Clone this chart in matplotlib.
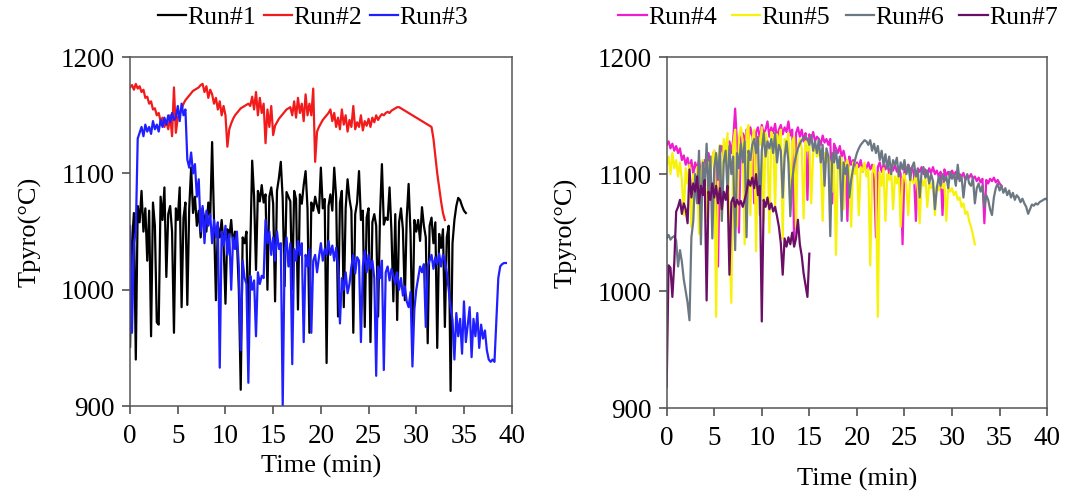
import matplotlib
matplotlib.use("Agg")
import matplotlib.pyplot as plt
import numpy as np

plt.rcParams["font.family"] = ["Liberation Serif", "DejaVu Serif"]

# Pyrometer temperature readings, one value every 0.2 min
DT = 0.2

run1 = [
    951, 1040, 1066, 940, 1072,
    1058, 1085, 1050, 1070, 1025,
    1068, 960, 1075, 1055, 972,
    970, 1080, 1060, 1088, 1011,
    1065, 1072, 1050, 963, 1070,
    1060, 1088, 985, 1062, 1075,
    987, 1070, 1105, 1066, 1080,
    1055, 1068, 1045, 1070, 1060,
    1050, 1075, 1062, 1127, 1058,
    991, 1055, 1045, 1060, 1040,
    988, 1052, 1045, 1060, 1038,
    1050, 1042, 1000, 914, 1045,
    1040, 1050, 960, 1035, 1111,
    1080, 1017, 1085, 1076, 1090,
    1075, 1082, 1000, 1080, 1088,
    1074, 990, 1085, 1096, 1110,
    1078, 1003, 1084, 1080, 1076,
    1000, 1085, 1078, 983, 1082,
    1074, 1090, 1102, 1070, 963,
    1075, 1068, 1080, 1072, 1066,
    1105, 1070, 1078, 937, 1072,
    1082, 1068, 1105, 1080, 977,
    1075, 1085, 985, 1070, 1095,
    1078, 1068, 963, 1065, 1075,
    1102, 1060, 1068, 968, 1062,
    1070, 955, 1058, 1065, 1055,
    977, 1064, 1108, 1056, 1062,
    1060, 1088, 1050, 990, 1065,
    974, 1058, 1070, 1052, 991,
    1062, 1091, 1048, 960, 1060,
    1050, 1060, 1042, 1071, 1055,
    1045, 954, 1055, 1062, 1040,
    1058, 950, 1048, 1036, 1052,
    968, 1045, 1055, 913, 1040,
    1060, 1072, 1079, 1077, 1072,
    1068, 1066,
]

run2 = [
    1174, 1176, 1172, 1177, 1173,
    1175, 1170, 1172, 1165, 1166,
    1160, 1162, 1155, 1156, 1150,
    1152, 1145, 1148, 1140, 1145,
    1138, 1150, 1132, 1174, 1135,
    1148, 1152, 1155, 1160, 1163,
    1165, 1167, 1169, 1171, 1172,
    1173, 1174, 1176, 1177, 1170,
    1175, 1165, 1172, 1168, 1160,
    1165, 1155, 1162, 1150, 1158,
    1150, 1123, 1138, 1143, 1147,
    1150, 1152, 1154, 1156, 1157,
    1158, 1159, 1160, 1158, 1166,
    1155, 1170, 1150, 1165, 1152,
    1160, 1126, 1155, 1140, 1158,
    1133, 1141, 1144, 1147, 1149,
    1151, 1153, 1155, 1156, 1157,
    1150, 1162, 1148, 1165, 1152,
    1160, 1145, 1168, 1150, 1160,
    1150, 1173, 1110, 1136, 1140,
    1143, 1146, 1148, 1150, 1152,
    1155, 1145, 1152, 1140, 1148,
    1138, 1155, 1142, 1150, 1136,
    1146, 1140, 1158, 1138, 1144,
    1140, 1150, 1137, 1145, 1141,
    1147, 1140, 1148, 1144, 1150,
    1146, 1149, 1151, 1150, 1152,
    1153, 1152, 1154, 1155, 1156,
    1157, 1157, 1156, 1155, 1154,
    1153, 1152, 1151, 1150, 1149,
    1148, 1147, 1146, 1145, 1144,
    1143, 1142, 1141, 1140, 1130,
    1115, 1100, 1088, 1076, 1066,
    1060,
]

run3 = [
    1055, 963, 1040, 1050, 1130,
    1135, 1140, 1132, 1142, 1136,
    1140, 1134, 1145, 1138, 1142,
    1136, 1146, 1140, 1148, 1142,
    1150, 1144, 1152, 1146, 1148,
    1158, 1145, 1160, 1150, 1155,
    1112, 1105, 1118, 1100, 1108,
    1080, 1095, 1050, 1072, 1040,
    1068, 1055, 1065, 1040, 1060,
    1045, 1058, 933, 1050, 1038,
    1055, 1030, 1048, 1000, 1045,
    1035, 1050, 1020, 948, 1025,
    1010, 1005, 920, 1012, 1000,
    1008, 960, 1015, 1005, 1012,
    1010, 1060, 1040, 1050, 1030,
    1045, 1025, 1050, 1035, 1040,
    900, 1030, 1045, 1020, 1040,
    936, 1035, 1025, 1042, 1030,
    1040, 955, 1030, 1020, 1035,
    963, 1025, 1030, 1015, 1028,
    1040, 1025, 1035, 1030, 1042,
    1030, 1038, 1025, 1036, 1020,
    971, 1010, 1000, 1015, 997,
    1005, 1020, 1030, 1014, 1028,
    1025, 955, 1020, 1034, 1015,
    1030, 1018, 1025, 1010, 926,
    1020, 1010, 1025, 931, 1015,
    1020, 1008, 1018, 1012, 1005,
    1015, 1000, 1010, 995, 1003,
    990, 985, 998, 934, 983,
    1000, 1010, 1020, 1015, 1022,
    968, 1020, 1025, 1030, 1018,
    1028, 1022, 1031, 1020, 1030,
    1025, 1015, 1000, 985, 974,
    940, 980, 960, 975, 945,
    990, 955, 970, 985, 942,
    975, 960, 980, 950, 970,
    958, 965, 948, 940, 938,
    940, 938, 975, 1010, 1020,
    1022, 1023, 1023,
]

run4 = [
    1125, 1128, 1122, 1126, 1120,
    1124, 1118, 1122, 1112, 1116,
    1108, 1114, 1105, 1112, 1100,
    1110, 1104, 1112, 1100, 1106,
    1112, 1102, 1118, 1108, 1114,
    1120, 1110, 1021, 1118, 1124,
    1115, 1126, 1120, 1128, 1118,
    1130, 1156, 1125, 1050, 1132,
    1135, 1128, 1138, 1130, 1140,
    1132, 1075, 1136, 1140, 1130,
    1142, 1134, 1138, 1145, 1132,
    1140, 1135, 1143, 1130, 1138,
    1142, 1134, 1140, 1136, 1145,
    1133, 1138, 1043, 1135, 1140,
    1132, 1138, 1128, 1135, 1078,
    1134, 1130, 1136, 1128, 1132,
    1130, 1125, 1133, 1127, 1130,
    1125, 1130, 1075, 1126, 1122,
    1118, 1124, 1115, 1120, 1112,
    1060, 1115, 1108, 1112, 1104,
    1110, 1106, 1112, 1102, 1108,
    1105, 1110, 1104, 1108, 1100,
    1046, 1106, 1110, 1102, 1108,
    1104, 1110, 1100, 1106, 1103,
    1108, 1102, 1106, 1100, 1040,
    1105, 1101, 1108, 1103, 1106,
    1100, 1060, 1105, 1102, 1106,
    1100, 1104, 1098, 1105, 1101,
    1106, 1100, 1103, 1098, 1102,
    1065, 1104, 1099, 1102, 1097,
    1103, 1099, 1102, 1096, 1100,
    1098, 1101, 1095, 1099, 1097,
    1100, 1096, 1098, 1094, 1097,
    1093, 1096, 1058, 1095, 1092,
    1096, 1094, 1097, 1093, 1095,
    1092, 1090,
]

run5 = [
    1108, 1115, 1100, 1118, 1105,
    1112, 1098, 1110, 1095, 1065,
    1105, 1092, 1108, 1055, 1100,
    1090, 1106, 1049, 1098, 1112,
    1095, 1060, 1110, 1100, 1115,
    1120, 978, 1112, 1125, 1060,
    1130, 1118, 1135, 1045, 990,
    1125, 1138, 1055, 1130, 1140,
    1128, 1040, 1136, 1142, 1065,
    1130, 1138, 1034, 1132, 1125,
    1140, 1060, 1135, 1128, 1050,
    1136, 1130, 1070, 1134, 1125,
    1138, 1045, 1130, 1126, 1135,
    1070, 1128, 1132, 1055, 1125,
    1130, 1122, 1062, 1128, 1120,
    1126, 1075, 1118, 1124, 1115,
    1120, 1112, 1060, 1118, 1110,
    1115, 1108, 1085, 1112, 1031,
    1110, 1105, 1114, 1070, 1108,
    1112, 1104, 1055, 1110, 1100,
    1108, 1065, 1106, 1102, 1110,
    1098, 1104, 1022, 1100, 1108,
    1095, 978, 1102, 1090, 1105,
    1060, 1100, 1095, 1104, 1070,
    1098, 1092, 1102, 1055, 1096,
    1100, 1090, 1065, 1098, 1094,
    1092, 1100, 1088, 1058, 1095,
    1090, 1097, 1072, 1092, 1088,
    1095, 1065, 1090, 1086, 1094,
    1088, 1092, 1060, 1090, 1085,
    1088, 1082, 1085, 1078, 1080,
    1072, 1075, 1066, 1068, 1060,
    1055, 1048, 1040,
]

run6 = [
    1045, 1048, 1044, 1046, 1047,
    1043, 1021, 1035, 1025, 1010,
    1000, 990, 975, 1046, 1060,
    1100, 1075, 1120, 1040, 1110,
    1090, 1126, 1080, 1115, 1045,
    1105, 1118, 1095, 1124, 1060,
    1110, 1120, 1085, 1124, 1100,
    1115, 1035, 1118, 1105, 1126,
    1110, 1128, 1046, 1120, 1112,
    1125, 1130, 1118, 1132, 1065,
    1120, 1135, 1115, 1128, 1122,
    1130, 1118, 1135, 1110, 1125,
    1120, 1080, 1115, 1128, 1110,
    1064, 1095, 1108, 1116, 1122,
    1126, 1129, 1131, 1132, 1130,
    1125, 1133, 1120, 1128, 1118,
    1130, 1110, 1125, 1090, 1122,
    1115, 1047, 1118, 1110, 1120,
    1105, 1115, 1060, 1110, 1100,
    1108, 1080, 1095, 1105, 1112,
    1118, 1122, 1125, 1127, 1129,
    1128, 1125, 1129, 1120, 1126,
    1118, 1124, 1112, 1120, 1108,
    1117, 1105, 1115, 1100, 1112,
    1108, 1114, 1098, 1110, 1104,
    1112, 1100, 1108, 1095, 1106,
    1110, 1098, 1104, 1080, 1102,
    1106, 1097, 1103, 1092, 1100,
    1094, 1070, 1088, 1098, 1090,
    1100, 1094, 1098, 1088, 1102,
    1096, 1100, 1090, 1108, 1094,
    1098, 1080, 1095, 1100, 1092,
    1090, 1097, 1075, 1088, 1092,
    1085, 1090, 1072, 1082, 1078,
    1070, 1065, 1080, 1088, 1092,
    1086, 1090, 1084, 1088, 1082,
    1086, 1080, 1084, 1078, 1082,
    1080, 1076, 1079, 1075, 1072,
    1066, 1070, 1074, 1073, 1075,
    1074, 1076, 1077, 1078, 1079,
    1078,
]

run7 = [
    918, 1022, 1020, 995, 1024,
    1068, 1072, 1078, 1066, 1075,
    1070, 1058, 1104, 1080, 1092,
    1085, 1098, 1075, 1090, 1082,
    1095, 992, 1085, 1078, 1092,
    1080, 1090, 1075, 1088, 1070,
    1085, 1078, 1090, 1014, 1076,
    1080, 1072, 1078, 1074, 1077,
    1072, 1078, 1085, 1095, 1090,
    1097, 1088, 1100, 1082, 1090,
    974, 1078, 1072, 1080, 1070,
    1075, 1068, 1072, 1064, 1055,
    1041, 1014, 1045, 1038, 1046,
    1040, 1050, 1038, 1045, 1061,
    1040, 1030, 1015, 1005, 995,
    1032,
]

left_runs = [("Run#1", run1, "black"), ("Run#2", run2, "#f21a1a"), ("Run#3", run3, "#1f1fff")]
right_runs = [("Run#4", run4, "#f01ccf"), ("Run#5", run5, "#f7f20a"),
              ("Run#6", run6, "#6b7883"), ("Run#7", run7, "#6b0f66")]

fig = plt.figure(figsize=(10.84, 4.97), dpi=100)
ax1 = fig.add_axes([0.120, 0.183, 0.352, 0.702])
ax2 = fig.add_axes([0.615, 0.179, 0.351, 0.706])

for ax, runs in [(ax1, left_runs), (ax2, right_runs)]:
    for name, vals, col in runs:
        t = np.arange(len(vals)) * DT
        ax.plot(t, vals, color=col, lw=1.6, label=name)
    ax.set_xlim(0, 40)
    ax.set_ylim(900, 1200)
    ax.set_xticks(range(0, 41, 5))
    ax.set_yticks([900, 1000, 1100, 1200])
    ax.tick_params(direction="out", length=6, width=1.1, labelsize=19.5, pad=5, color="#444444")
    ax.tick_params(axis="x", pad=7)
    for s in ax.spines.values():
        s.set_color("#555555")
        s.set_linewidth(1.1)
    ax.set_ylabel("Tpyro(°C)", fontsize=19, labelpad=14)

ax1.set_xlabel("Time (min)", fontsize=19, labelpad=4)
ax2.set_xlabel("Time (min)", fontsize=19, labelpad=12)

ax1.legend(loc="center", bbox_to_anchor=(313 / 1084, 0.964), bbox_transform=fig.transFigure,
           ncol=3, frameon=False, fontsize=18.5, handlelength=1.1, handletextpad=0.05,
           columnspacing=0.3, borderaxespad=0)
ax2.legend(loc="center", bbox_to_anchor=(838 / 1084, 0.964), bbox_transform=fig.transFigure,
           ncol=4, frameon=False, fontsize=18.5, handlelength=1.1, handletextpad=0.05,
           columnspacing=0.6, borderaxespad=0)

fig.savefig("out.png", dpi=100)
